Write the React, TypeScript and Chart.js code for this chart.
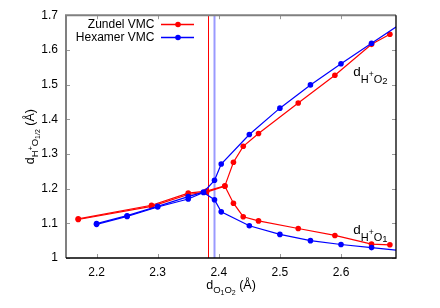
import { useEffect, useRef } from "react";
import { Chart, registerables } from "chart.js";

Chart.register(...registerables);

const FONT = '"Liberation Sans", Arial, Helvetica, sans-serif';

// Zundel VMC
const zundelX = [2.17, 2.29, 2.35, 2.38, 2.41, 2.424, 2.44, 2.465, 2.53, 2.59, 2.65, 2.68];
const zundelO2 = [1.113, 1.152, 1.187, 1.193, 1.208, 1.276, 1.322, 1.359, 1.447, 1.527, 1.616, 1.645];
const zundelO1 = [1.111, 1.149, 1.183, 1.19, 1.207, 1.158, 1.119, 1.107, 1.085, 1.065, 1.04, 1.038];

// Hexamer VMC
const hexamerX = [2.2, 2.25, 2.3, 2.35, 2.375, 2.393, 2.404, 2.45, 2.5, 2.55, 2.6, 2.65, 2.7];
const hexamerO2 = [1.099, 1.122, 1.149, 1.177, 1.19, 1.224, 1.271, 1.356, 1.432, 1.499, 1.56, 1.619, 1.678];
const hexamerO1 = [1.097, 1.12, 1.147, 1.17, 1.189, 1.168, 1.133, 1.093, 1.068, 1.05, 1.039, 1.03, 1.021];

const seriesNames = ["Zundel VMC", "Hexamer VMC"];
const seriesColors = ["#ff0000", "#0000ff"];

// crossover markers (vertical lines)
const zundelCrossover = 2.383;
const hexamerCrossover = 2.393;

const xTickValues = [2.2, 2.3, 2.4, 2.5, 2.6];
const xTickLabels = ["2.2", "2.3", "2.4", "2.5", "2.6"];
const yTickValues = [1, 1.1, 1.2, 1.3, 1.4, 1.5, 1.6, 1.7];
const yTickLabels = ["1", "1.1", "1.2", "1.3", "1.4", "1.5", "1.6", "1.7"];

// curve labels, anchored in data coordinates
const labelO2Anchor = { x: 2.62, y: 1.526 };
const labelO1Anchor = { x: 2.62, y: 1.0706 };

type Seg = { t: string; size: number; dy: number };

function segWidth(ctx: CanvasRenderingContext2D, segs: Seg[]) {
  let w = 0;
  for (const s of segs) {
    ctx.font = `${s.size}px ${FONT}`;
    w += ctx.measureText(s.t).width;
  }
  return w;
}

function drawSegs(ctx: CanvasRenderingContext2D, segs: Seg[], x: number, y: number) {
  let cx = x;
  ctx.textAlign = "left";
  ctx.textBaseline = "alphabetic";
  for (const s of segs) {
    ctx.font = `${s.size}px ${FONT}`;
    ctx.fillText(s.t, cx, y + s.dy);
    cx += ctx.measureText(s.t).width;
  }
}

const labelSegs = (n: string): Seg[] => [
  { t: "d", size: 13.5, dy: 0 },
  { t: "H", size: 11, dy: 7 },
  { t: "+", size: 8.5, dy: 1 },
  { t: "O", size: 11, dy: 7 },
  { t: n, size: 9.5, dy: 8 },
];

const xTitleSegs: Seg[] = [
  { t: "d", size: 12.5, dy: 0 },
  { t: "O", size: 9.5, dy: 4 },
  { t: "1", size: 7, dy: 6 },
  { t: "O", size: 9.5, dy: 4 },
  { t: "2", size: 7, dy: 6 },
  { t: " (Å)", size: 12.5, dy: 0 },
];

const yTitleSegs: Seg[] = [
  { t: "d", size: 12.5, dy: 0 },
  { t: "H", size: 9.5, dy: 4 },
  { t: "+", size: 7, dy: -1 },
  { t: "O", size: 9.5, dy: 4 },
  { t: "1/2", size: 7, dy: 6 },
  { t: " (Å)", size: 12.5, dy: 0 },
];

const decor = {
  id: "decor",
  beforeDatasetsDraw(chart: any) {
    const { ctx, chartArea: a, scales } = chart;
    const x = scales.x;
    ctx.save();
    const hx = x.getPixelForValue(hexamerCrossover);
    ctx.strokeStyle = "#9a9aff";
    ctx.lineWidth = 2;
    ctx.beginPath();
    ctx.moveTo(hx, a.top);
    ctx.lineTo(hx, a.bottom);
    ctx.stroke();
    const zx = Math.round(x.getPixelForValue(zundelCrossover)) + 0.5;
    ctx.strokeStyle = "#ff0000";
    ctx.lineWidth = 1;
    ctx.beginPath();
    ctx.moveTo(zx, a.top);
    ctx.lineTo(zx, a.bottom);
    ctx.stroke();
    ctx.restore();
  },
  afterDraw(chart: any) {
    const { ctx, chartArea: a, scales } = chart;
    const x = scales.x;
    const y = scales.y;
    ctx.save();

    // ticks (inward, mirrored)
    ctx.strokeStyle = "#999999";
    ctx.lineWidth = 1;
    const tl = 4;
    ctx.beginPath();
    for (const v of xTickValues) {
      const px = Math.round(x.getPixelForValue(v)) + 0.5;
      ctx.moveTo(px, a.bottom);
      ctx.lineTo(px, a.bottom - tl);
      ctx.moveTo(px, a.top);
      ctx.lineTo(px, a.top + tl);
    }
    for (const v of yTickValues) {
      const py = Math.round(y.getPixelForValue(v)) + 0.5;
      ctx.moveTo(a.left, py);
      ctx.lineTo(a.left + tl, py);
      ctx.moveTo(a.right, py);
      ctx.lineTo(a.right - tl, py);
    }
    ctx.stroke();

    // border
    ctx.strokeStyle = "#808080";
    ctx.lineWidth = 2;
    ctx.beginPath();
    ctx.moveTo(a.left, a.bottom);
    ctx.lineTo(a.left, a.top);
    ctx.lineTo(a.right, a.top);
    ctx.stroke();
    ctx.strokeStyle = "#000000";
    ctx.lineWidth = 1.3;
    ctx.beginPath();
    ctx.moveTo(a.right, a.top);
    ctx.lineTo(a.right, a.bottom);
    ctx.lineTo(a.left, a.bottom);
    ctx.stroke();

    // legend
    const rows = [24.5, 37.5];
    ctx.font = `12px ${FONT}`;
    ctx.textAlign = "right";
    ctx.textBaseline = "middle";
    seriesNames.forEach((name, i) => {
      const ry = rows[i];
      ctx.fillStyle = "#000";
      ctx.fillText(name, 154.5, ry);
      ctx.strokeStyle = seriesColors[i];
      ctx.lineWidth = 1.3;
      ctx.beginPath();
      ctx.moveTo(161, ry);
      ctx.lineTo(194, ry);
      ctx.stroke();
      ctx.fillStyle = seriesColors[i];
      ctx.beginPath();
      ctx.arc(178, ry, 2.8, 0, Math.PI * 2);
      ctx.fill();
    });

    // curve labels
    ctx.fillStyle = "#000";
    drawSegs(ctx, labelSegs("2"), x.getPixelForValue(labelO2Anchor.x), y.getPixelForValue(labelO2Anchor.y));
    drawSegs(ctx, labelSegs("1"), x.getPixelForValue(labelO1Anchor.x), y.getPixelForValue(labelO1Anchor.y));

    // x title
    const cx = (a.left + a.right) / 2;
    const xw = segWidth(ctx, xTitleSegs);
    drawSegs(ctx, xTitleSegs, cx - xw / 2, 289);

    // y title
    const cy = (a.top + a.bottom) / 2;
    const yw = segWidth(ctx, yTitleSegs);
    ctx.save();
    ctx.translate(33.5, cy);
    ctx.rotate(-Math.PI / 2);
    drawSegs(ctx, yTitleSegs, -yw / 2, 0);
    ctx.restore();

    ctx.restore();
  },
};

function makeSeries(xs: number[], ys: number[]) {
  return xs.map((v, i) => ({ x: v, y: ys[i] }));
}

export default function App() {
  const ref = useRef<HTMLCanvasElement | null>(null);

  useEffect(() => {
    if (!ref.current) return;
    const ds = (label: string, data: any[], color: string) => ({
      label,
      data,
      borderColor: color,
      backgroundColor: color,
      borderWidth: 1.2,
      pointRadius: 2.8,
      pointBorderWidth: 0,
      pointBackgroundColor: color,
      pointHoverRadius: 2.8,
      tension: 0,
      showLine: true,
      fill: false,
    });
    const chart = new Chart(ref.current, {
      type: "line",
      data: {
        datasets: [
          ds(seriesNames[1], makeSeries(hexamerX, hexamerO2), seriesColors[1]),
          ds(seriesNames[1], makeSeries(hexamerX, hexamerO1), seriesColors[1]),
          ds(seriesNames[0], makeSeries(zundelX, zundelO2), seriesColors[0]),
          ds(seriesNames[0], makeSeries(zundelX, zundelO1), seriesColors[0]),
        ],
      },
      options: {
        animation: false,
        responsive: false,
        devicePixelRatio: 1,
        events: [],
        layout: { padding: { left: 0, top: 15, right: 44, bottom: 0 } },
        plugins: {
          legend: { display: false },
          tooltip: { enabled: false },
        },
        scales: {
          x: {
            type: "linear",
            min: 2.15,
            max: 2.69,
            afterBuildTicks: (s: any) => {
              s.ticks = xTickValues.map((v) => ({ value: v }));
            },
            afterFit: (s: any) => {
              s.height = 50;
            },
            ticks: {
              padding: 7,
              color: "#000",
              font: { family: FONT, size: 12 },
              callback: (_v: any, i: number) => xTickLabels[i],
              maxRotation: 0,
            },
            grid: { display: false, drawTicks: false },
            border: { display: false },
          },
          y: {
            type: "linear",
            min: 1,
            max: 1.7,
            afterBuildTicks: (s: any) => {
              s.ticks = yTickValues.map((v) => ({ value: v }));
            },
            afterFit: (s: any) => {
              s.width = 66;
            },
            ticks: {
              padding: 8,
              color: "#000",
              font: { family: FONT, size: 12 },
              callback: (_v: any, i: number) => yTickLabels[i],
            },
            grid: { display: false, drawTicks: false },
            border: { display: false },
          },
        },
      },
      plugins: [decor],
    } as any);
    return () => chart.destroy();
  }, []);

  return (
    <div style={{ position: "fixed", left: 0, top: 0, width: 440, height: 308, background: "#fff" }}>
      <canvas ref={ref} width={440} height={308} style={{ display: "block", width: 440, height: 308 }} />
    </div>
  );
}
